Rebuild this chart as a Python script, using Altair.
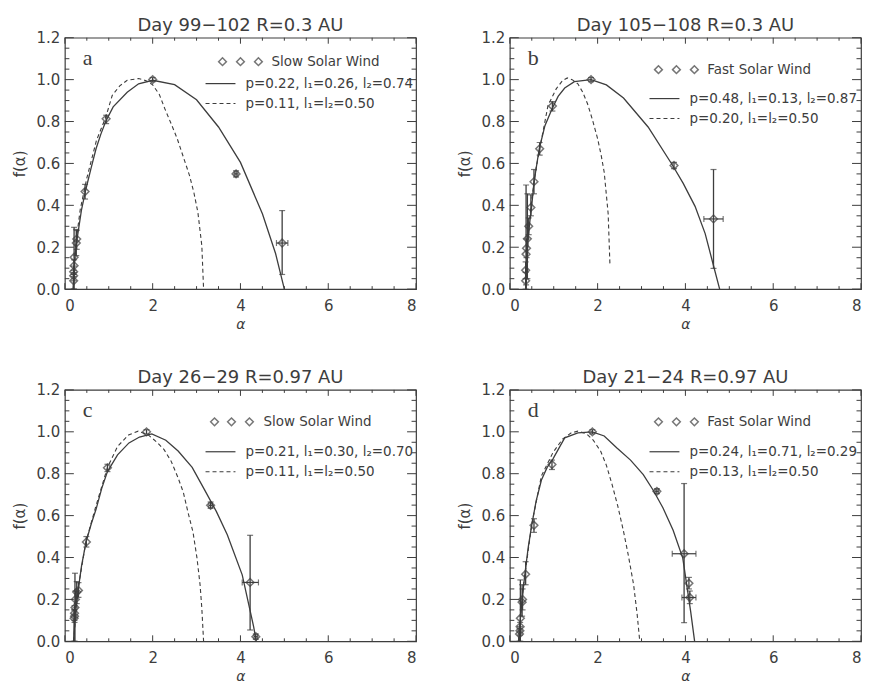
import altair as alt
import pandas as pd

INK = "#3d3d3d"
FONT = "DejaVu Sans"
W, H = 352, 252

X_MAJOR = [0, 2, 4, 6, 8]
X_MINOR = [0.5, 1.0, 1.5, 2.5, 3.0, 3.5, 4.5, 5.0, 5.5, 6.5, 7.0, 7.5]
Y_MAJOR = [0.0, 0.2, 0.4, 0.6, 0.8, 1.0, 1.2]
Y_MINOR = [0.05, 0.1, 0.15, 0.25, 0.3, 0.35, 0.45, 0.5, 0.55, 0.65, 0.7, 0.75,
           0.85, 0.9, 0.95, 1.05, 1.1, 1.15]

# ---------------- panel a ----------------
A_ALPHA = [0.20, 0.20, 0.20, 0.21, 0.21, 0.26, 0.27, 0.46, 0.94, 2.00, 3.90, 4.95]
A_F     = [0.04, 0.064, 0.083, 0.112, 0.152, 0.22, 0.239, 0.466, 0.813, 1.00, 0.55, 0.22]
A_LO    = [0.0, 0.04, 0.06, 0.08, 0.0, 0.16, 0.19, 0.43, 0.79, 0.99, 0.535, 0.07]
A_HI    = [0.07, 0.09, 0.11, 0.14, 0.295, 0.285, 0.28, 0.50, 0.83, 1.01, 0.565, 0.375]
A_XE_F, A_XE_LO, A_XE_HI = [0.22, 0.55], [4.82, 3.86], [5.08, 3.94]
A_SOL_X = [0.19, 0.21, 0.25, 0.30, 0.38, 0.48, 0.60, 0.71, 0.82, 0.93, 1.10, 1.42, 1.68,
           2.0, 2.5, 3.0, 3.5, 4.0, 4.5, 4.8, 5.0]
A_SOL_Y = [0.0, 0.10, 0.20, 0.27, 0.38, 0.478, 0.58, 0.67, 0.74, 0.80, 0.87, 0.94, 0.98,
           0.997, 0.976, 0.904, 0.774, 0.605, 0.36, 0.17, 0.0]
A_DSH_X = [0.19, 0.25, 0.35, 0.5, 0.72, 0.93, 1.08, 1.25, 1.42, 1.68, 1.85, 2.0, 2.15, 2.28,
           2.42, 2.56, 2.7, 2.84, 2.94, 3.03, 3.12, 3.16]
A_DSH_Y = [0.0, 0.22, 0.38, 0.53, 0.71, 0.82, 0.925, 0.97, 0.997, 1.005, 0.995, 0.975, 0.93,
           0.86, 0.79, 0.718, 0.63, 0.542, 0.46, 0.367, 0.207, 0.0]

# ---------------- panel b ----------------
B_ALPHA = [0.36, 0.36, 0.37, 0.38, 0.40, 0.43, 0.48, 0.55, 0.68, 0.97, 1.85, 3.74, 4.64]
B_F     = [0.04, 0.09, 0.167, 0.195, 0.24, 0.30, 0.39, 0.513, 0.67, 0.874, 1.0, 0.59, 0.335]
B_LO    = [0.0, 0.05, 0.02, 0.15, 0.05, 0.26, 0.35, 0.455, 0.64, 0.85, 0.99, 0.575, 0.099]
B_HI    = [0.08, 0.13, 0.497, 0.24, 0.455, 0.34, 0.45, 0.571, 0.70, 0.895, 1.01, 0.605, 0.571]
B_XE_F, B_XE_LO, B_XE_HI = [0.335], [4.42], [4.86]
B_SOL_X = [0.37, 0.39, 0.42, 0.46, 0.50, 0.55, 0.61, 0.67, 0.80, 0.96, 1.10, 1.25, 1.47,
           1.85, 2.2, 2.59, 3.15, 3.71, 3.95, 4.22, 4.45, 4.63, 4.78]
B_SOL_Y = [0.0, 0.15, 0.25, 0.33, 0.40, 0.51, 0.59, 0.67, 0.78, 0.86, 0.92, 0.96, 0.99,
           1.0, 0.975, 0.912, 0.774, 0.59, 0.505, 0.395, 0.265, 0.12, 0.0]
B_DSH_X = [0.37, 0.42, 0.5, 0.6, 0.7, 0.87, 1.06, 1.2, 1.31, 1.42, 1.55, 1.66, 1.77, 1.88,
           2.0, 2.08, 2.15, 2.24, 2.28]
B_DSH_Y = [0.0, 0.27, 0.43, 0.58, 0.69, 0.877, 0.957, 0.995, 1.008, 1.0, 0.98, 0.94, 0.885,
           0.81, 0.718, 0.64, 0.558, 0.36, 0.12]

# ---------------- panel c ----------------
C_ALPHA = [0.21, 0.22, 0.22, 0.23, 0.24, 0.27, 0.31, 0.49, 0.97, 1.86, 3.32, 4.22, 4.35]
C_F     = [0.11, 0.12, 0.134, 0.161, 0.20, 0.235, 0.243, 0.474, 0.828, 1.0, 0.649, 0.281, 0.022]
C_LO    = [0.0, 0.09, 0.10, 0.0, 0.16, 0.18, 0.21, 0.45, 0.81, 0.99, 0.635, 0.054, 0.01]
C_HI    = [0.15, 0.15, 0.17, 0.325, 0.24, 0.285, 0.28, 0.50, 0.845, 1.01, 0.665, 0.506, 0.035]
C_XE_F, C_XE_LO, C_XE_HI = [0.281, 0.649, 0.022], [4.04, 3.28, 4.31], [4.41, 3.36, 4.39]
C_SOL_X = [0.2, 0.23, 0.30, 0.38, 0.48, 0.6, 0.71, 0.84, 0.97, 1.2, 1.46, 1.7, 1.98, 2.3,
           2.58, 2.9, 3.18, 3.45, 3.7, 4.04, 4.3, 4.36]
C_SOL_Y = [0.0, 0.12, 0.24, 0.36, 0.472, 0.56, 0.63, 0.73, 0.81, 0.89, 0.947, 0.975, 0.99,
           0.96, 0.908, 0.83, 0.724, 0.62, 0.509, 0.317, 0.07, 0.0]
C_DSH_X = [0.2, 0.3, 0.48, 0.7, 0.97, 1.2, 1.45, 1.67, 1.9, 2.1, 2.26, 2.42, 2.58, 2.7, 2.8,
           2.92, 3.01, 3.08, 3.12, 3.16]
C_DSH_Y = [0.0, 0.25, 0.475, 0.64, 0.83, 0.93, 0.985, 1.003, 0.985, 0.95, 0.915, 0.86, 0.78,
           0.71, 0.62, 0.52, 0.397, 0.27, 0.158, 0.0]

# ---------------- panel d ----------------
D_ALPHA = [0.22, 0.23, 0.235, 0.24, 0.28, 0.29, 0.36, 0.55, 0.96, 1.88, 3.35, 3.97, 4.08, 4.10]
D_F     = [0.035, 0.05, 0.07, 0.11, 0.187, 0.20, 0.32, 0.554, 0.844, 1.0, 0.716, 0.418, 0.277, 0.209]
D_LO    = [0.0, 0.03, 0.05, 0.0, 0.12, 0.15, 0.27, 0.52, 0.82, 0.99, 0.705, 0.089, 0.25, 0.18]
D_HI    = [0.06, 0.07, 0.09, 0.293, 0.27, 0.25, 0.38, 0.585, 0.865, 1.01, 0.728, 0.753, 0.305, 0.24]
D_XE_F, D_XE_LO, D_XE_HI = [0.418, 0.209, 0.716], [3.70, 3.92, 3.31], [4.24, 4.24, 3.39]
D_SOL_X = [0.2, 0.24, 0.29, 0.35, 0.42, 0.5, 0.6, 0.72, 0.85, 0.98, 1.25, 1.55, 1.88, 2.15,
           2.44, 2.75, 3.04, 3.27, 3.49, 3.72, 3.94, 4.12, 4.21]
D_SOL_Y = [0.0, 0.11, 0.22, 0.333, 0.45, 0.556, 0.67, 0.77, 0.83, 0.87, 0.971, 0.995, 1.0,
           0.98, 0.923, 0.865, 0.796, 0.72, 0.636, 0.53, 0.397, 0.142, 0.0]
D_DSH_X = [0.2, 0.3, 0.5, 0.72, 0.98, 1.2, 1.4, 1.55, 1.75, 1.9, 2.07, 2.2, 2.33, 2.46,
           2.59, 2.7, 2.82, 2.9, 2.96]
D_DSH_Y = [0.0, 0.25, 0.56, 0.79, 0.9, 0.965, 0.995, 1.003, 0.99, 0.96, 0.907, 0.84, 0.748,
           0.645, 0.525, 0.41, 0.27, 0.13, 0.0]

TITLES = ["Day 99\u2212102  R=0.3 AU", "Day 105\u2212108  R=0.3 AU",
          "Day 26\u221229  R=0.97 AU", "Day 21\u221224  R=0.97 AU"]
LETTERS = ["a", "b", "c", "d"]
WINDS = ["Slow Solar Wind", "Fast Solar Wind", "Slow Solar Wind", "Fast Solar Wind"]
SOLID_LABELS = ["p=0.22, l\u2081=0.26, l\u2082=0.74", "p=0.48, l\u2081=0.13, l\u2082=0.87",
                "p=0.21, l\u2081=0.30, l\u2082=0.70", "p=0.24, l\u2081=0.71, l\u2082=0.29"]
DASH_LABELS = ["p=0.11, l\u2081=l\u2082=0.50", "p=0.20, l\u2081=l\u2082=0.50",
               "p=0.11, l\u2081=l\u2082=0.50", "p=0.13, l\u2081=l\u2082=0.50"]

xs = alt.Scale(domain=[0, 8], nice=False, zero=False, padding=0)
ys = alt.Scale(domain=[0, 1.2], nice=False, zero=False, padding=0)
ONE = pd.DataFrame({"k": [0]})


def panel(i, alpha, f, lo, hi, xe_f, xe_lo, xe_hi, sx, sy, dx, dy, leg):
    pts = pd.DataFrame({"alpha": alpha, "f": f, "lo": lo, "hi": hi})
    xe = pd.DataFrame({"f": xe_f, "xlo": xe_lo, "xhi": xe_hi})
    sol = pd.DataFrame({"alpha": sx, "f": sy})
    dsh = pd.DataFrame({"alpha": dx, "f": dy})

    xaxis = alt.Axis(values=X_MAJOR, title="\u03b1", labelFontSize=15, labelPadding=9,
                     titleFontSize=14, titlePadding=4, titleFontStyle="italic",
                     grid=False, ticks=False, domain=False, titleFontWeight="normal")
    yaxis = alt.Axis(values=Y_MAJOR, format=".1f", title="f(\u03b1)", labelFontSize=15,
                     labelPadding=5, titleFontSize=15, titlePadding=9,
                     grid=False, ticks=False, domain=False, titleFontWeight="normal")

    base = alt.Chart(sol).mark_line(color=INK, strokeWidth=1.3).encode(
        x=alt.X("alpha:Q", scale=xs, axis=xaxis),
        y=alt.Y("f:Q", scale=ys, axis=yaxis))
    dash = alt.Chart(dsh).mark_line(color=INK, strokeWidth=1.1, strokeDash=[4, 3]).encode(
        x=alt.X("alpha:Q", scale=xs), y=alt.Y("f:Q", scale=ys))
    ebar = alt.Chart(pts).mark_rule(color=INK, strokeWidth=1.3).encode(
        x=alt.X("alpha:Q", scale=xs), y=alt.Y("lo:Q", scale=ys), y2="hi:Q")
    cap_lo = alt.Chart(pts).mark_tick(color=INK, orient="horizontal", size=6, thickness=1.2).encode(
        x=alt.X("alpha:Q", scale=xs), y=alt.Y("lo:Q", scale=ys))
    cap_hi = alt.Chart(pts).mark_tick(color=INK, orient="horizontal", size=6, thickness=1.2).encode(
        x=alt.X("alpha:Q", scale=xs), y=alt.Y("hi:Q", scale=ys))
    xbar = alt.Chart(xe).mark_rule(color=INK, strokeWidth=1.2).encode(
        x=alt.X("xlo:Q", scale=xs), x2="xhi:Q", y=alt.Y("f:Q", scale=ys))
    xcap_lo = alt.Chart(xe).mark_tick(color=INK, orient="vertical", size=6, thickness=1.2).encode(
        x=alt.X("xlo:Q", scale=xs), y=alt.Y("f:Q", scale=ys))
    xcap_hi = alt.Chart(xe).mark_tick(color=INK, orient="vertical", size=6, thickness=1.2).encode(
        x=alt.X("xhi:Q", scale=xs), y=alt.Y("f:Q", scale=ys))
    points = alt.Chart(pts).mark_point(shape="diamond", filled=False, color=INK, size=60,
                                       strokeWidth=1.5).encode(
        x=alt.X("alpha:Q", scale=xs), y=alt.Y("f:Q", scale=ys))

    # inward box ticks
    def xt(vals, length):
        d = pd.DataFrame({"v": vals})
        b = alt.Chart(d).mark_rule(color=INK, strokeWidth=1).encode(
            x=alt.X("v:Q", scale=xs), y=alt.value(H), y2=alt.value(H - length))
        t = alt.Chart(d).mark_rule(color=INK, strokeWidth=1).encode(
            x=alt.X("v:Q", scale=xs), y=alt.value(0), y2=alt.value(length))
        return [b, t]

    def yt(vals, length):
        d = pd.DataFrame({"v": vals})
        l = alt.Chart(d).mark_rule(color=INK, strokeWidth=1).encode(
            y=alt.Y("v:Q", scale=ys), x=alt.value(0), x2=alt.value(length))
        r = alt.Chart(d).mark_rule(color=INK, strokeWidth=1).encode(
            y=alt.Y("v:Q", scale=ys), x=alt.value(W), x2=alt.value(W - length))
        return [l, r]

    ticks = xt(X_MAJOR, 6) + xt(X_MINOR, 3) + yt(Y_MAJOR, 9) + yt(Y_MINOR, 4.5)

    dxs, dyy, tx, lx0, lx1, ly1, ly2, tx2 = leg
    leg_layers = []
    for xv in dxs:
        leg_layers.append(alt.Chart(ONE).mark_point(shape="diamond", filled=False, color=INK,
                                                     size=60, strokeWidth=1.5).encode(
            x=alt.value(xv), y=alt.value(dyy)))
    leg_layers.append(alt.Chart(ONE).mark_text(align="left", baseline="middle", font=FONT,
                                               fontSize=13.5, color=INK).encode(
        x=alt.value(tx), y=alt.value(dyy), text=alt.value(WINDS[i])))
    leg_layers.append(alt.Chart(ONE).mark_rule(color=INK, strokeWidth=1.2).encode(
        x=alt.value(lx0), x2=alt.value(lx1), y=alt.value(ly1)))
    leg_layers.append(alt.Chart(ONE).mark_rule(color=INK, strokeWidth=1.1, strokeDash=[4, 3]).encode(
        x=alt.value(lx0), x2=alt.value(lx1), y=alt.value(ly2)))
    leg_layers.append(alt.Chart(ONE).mark_text(align="left", baseline="middle", font=FONT,
                                               fontSize=13.5, color=INK).encode(
        x=alt.value(tx2), y=alt.value(ly1), text=alt.value(SOLID_LABELS[i])))
    leg_layers.append(alt.Chart(ONE).mark_text(align="left", baseline="middle", font=FONT,
                                               fontSize=13.5, color=INK).encode(
        x=alt.value(tx2), y=alt.value(ly2), text=alt.value(DASH_LABELS[i])))
    letter = alt.Chart(ONE).mark_text(align="left", baseline="middle", font="Liberation Serif",
                                      fontSize=22, color=INK).encode(
        x=alt.value(18), y=alt.value(20), text=alt.value(LETTERS[i]))

    layers = [base, dash, ebar, cap_lo, cap_hi, xbar, xcap_lo, xcap_hi, points] + ticks \
        + leg_layers + [letter]
    return alt.layer(*layers).properties(
        width=W, height=H,
        title=alt.TitleParams(TITLES[i], fontSize=18, font=FONT, fontWeight="normal",
                              color=INK, offset=-4))


LEG_A = ([158, 176, 194], 24, 207, 141, 171, 46, 66, 181)
LEG_B = ([149, 167, 185], 32, 198, 140, 170, 61, 81, 180)
LEG_C = ([150, 167, 185], 32, 199, 141, 171, 62, 82, 181)
LEG_D = ([149, 167, 185], 32, 198, 140, 170, 62, 82, 180)

pa = panel(0, A_ALPHA, A_F, A_LO, A_HI, A_XE_F, A_XE_LO, A_XE_HI, A_SOL_X, A_SOL_Y, A_DSH_X, A_DSH_Y, LEG_A)
pb = panel(1, B_ALPHA, B_F, B_LO, B_HI, B_XE_F, B_XE_LO, B_XE_HI, B_SOL_X, B_SOL_Y, B_DSH_X, B_DSH_Y, LEG_B)
pc = panel(2, C_ALPHA, C_F, C_LO, C_HI, C_XE_F, C_XE_LO, C_XE_HI, C_SOL_X, C_SOL_Y, C_DSH_X, C_DSH_Y, LEG_C)
pd_ = panel(3, D_ALPHA, D_F, D_LO, D_HI, D_XE_F, D_XE_LO, D_XE_HI, D_SOL_X, D_SOL_Y, D_DSH_X, D_DSH_Y, LEG_D)

chart = alt.concat(pa, pb, pc, pd_, columns=2,
                   spacing=alt.RowColnumber(row=101, column=94),
                   bounds="flush").properties(
    padding={"left": 3, "top": 7, "right": 0, "bottom": 0},
    background="white"
).configure_view(stroke=INK, strokeWidth=1.2).configure_axis(
    domain=False, ticks=False, grid=False, labelColor=INK, titleColor=INK,
    labelFont=FONT, titleFont=FONT, titleFontWeight="normal"
)

chart.save("out.html", embed_options={"renderer": "svg", "actions": False})
